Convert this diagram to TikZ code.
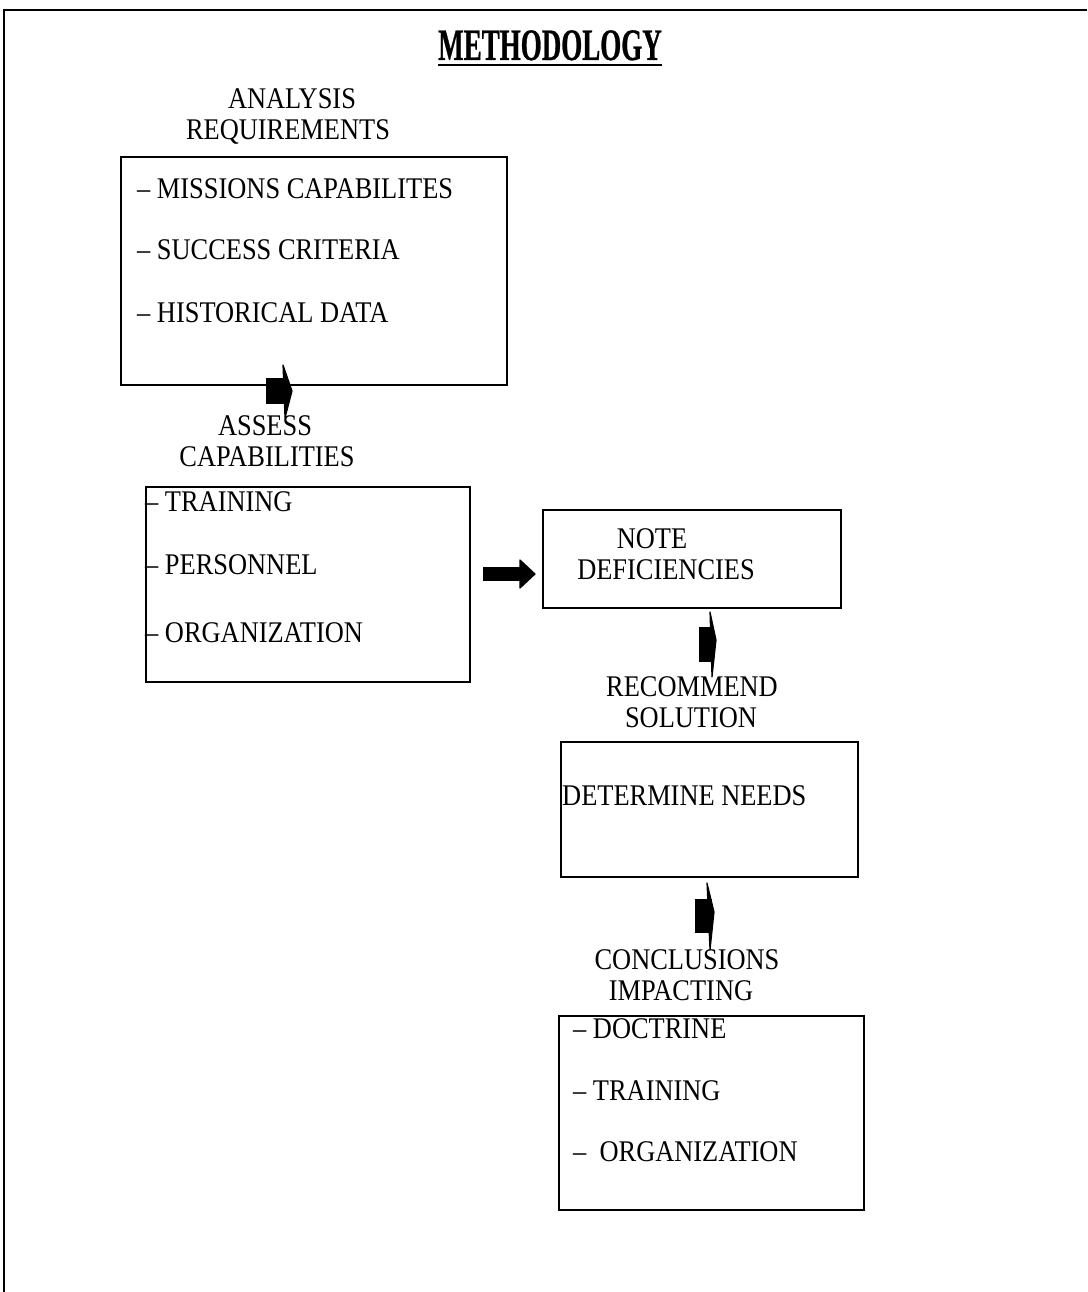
\documentclass[tikz,border=0pt]{standalone}
\usepackage{fontspec}
\setmainfont{Liberation Serif}
\newfontfamily\bodyfont[FakeStretch=0.88]{Liberation Serif}
\newfontfamily\titlefont[FakeStretch=0.6,FakeBold=0.6]{Liberation Serif}
\tikzset{
  box/.style={draw, line width=1.6pt, inner sep=0pt, anchor=north west},
  lbl/.style={font=\bodyfont\fontsize{30}{36}\selectfont, anchor=base, inner sep=0pt},
  item/.style={font=\bodyfont\fontsize{30}{36}\selectfont, anchor=base west, inner sep=0pt},
  blockbody/.style={fill=black},
  blockhead/.style={fill=black, draw=black, line width=1.2pt, line join=round},
  frameline/.style={line width=1.5pt}
}
\begin{document}
\begin{tikzpicture}[x=1pt,y=-1pt]
\useasboundingbox (0,0) rectangle (1087,1292);
% outer frame
\draw[frameline] (4,1292) -- (4,10) -- (1087,10);
% title
\node[font=\titlefont\bfseries\fontsize{45}{50}\selectfont, anchor=base, inner sep=0pt] (title) at (550,60) {METHODOLOGY};
\draw[line width=2.5pt] (title.base west) ++(0,5) coordinate (ul1) -- (ul1 -| title.base east);

% box 1
\node[lbl] (l1a) at (292,109) {ANALYSIS};
\node[lbl] (l1b) at (288,140) {REQUIREMENTS};
\node[box, minimum width=386pt, minimum height=228pt] (req) at (120,156) {};
\node[item] (i1a) at (137,198) {– MISSIONS CAPABILITES};
\node[item] (i1b) at (137,259) {– SUCCESS CRITERIA};
\node[item] (i1c) at (137,322) {– HISTORICAL DATA};

% arrow 1
\coordinate (a1) at (266,378);
\fill[blockbody] (a1) rectangle ++(19,26);
\filldraw[blockhead] (283,365) -- (292,391) -- (285,418) -- cycle;

% box 2
\node[lbl] (l2a) at (265,435) {ASSESS};
\node[lbl] (l2b) at (267,466) {CAPABILITIES};
\node[box, minimum width=324pt, minimum height=195pt] (cap) at (145,486) {};
\node[item] (i2a) at (145,511) {– TRAINING};
\node[item] (i2b) at (145,574) {– PERSONNEL};
\node[item] (i2c) at (145,642) {– ORGANIZATION};

% arrow 2
\coordinate (a2) at (483,567);
\fill[blockbody] (a2) rectangle ++(37,14);
\filldraw[blockhead] (520,560) -- (535,574) -- (520,588) -- cycle;

% box 3
\node[box, minimum width=298pt, minimum height=98pt] (note) at (542,509) {};
\node[lbl] (l3a) at (652,548) {NOTE};
\node[lbl] (l3b) at (666,579) {DEFICIENCIES};

% arrow 3
\coordinate (a3) at (699,627);
\fill[blockbody] (a3) rectangle ++(14,35);
\filldraw[blockhead] (710,612) -- (716,640) -- (712,677) -- cycle;

% box 4
\node[lbl] (l4a) at (692,696) {RECOMMEND};
\node[lbl] (l4b) at (691,727) {SOLUTION};
\node[box, minimum width=297pt, minimum height=135pt] (sol) at (560,741) {};
\node[item] (i4a) at (562,805) {DETERMINE NEEDS};

% arrow 4
\coordinate (a4) at (695,899);
\fill[blockbody] (a4) rectangle ++(17,34);
\filldraw[blockhead] (707,883) -- (714,912) -- (710,950) -- cycle;

% box 5
\node[lbl] (l5a) at (687,969) {CONCLUSIONS};
\node[lbl] (l5b) at (681,1000) {IMPACTING};
\node[box, minimum width=305pt, minimum height=194pt] (conc) at (558,1015) {};
\node[item] (i5a) at (573,1038) {– DOCTRINE};
\node[item] (i5b) at (573,1100) {– TRAINING};
\node[item] (i5c) at (573,1161) {–\ \ ORGANIZATION};
\end{tikzpicture}
\end{document}
